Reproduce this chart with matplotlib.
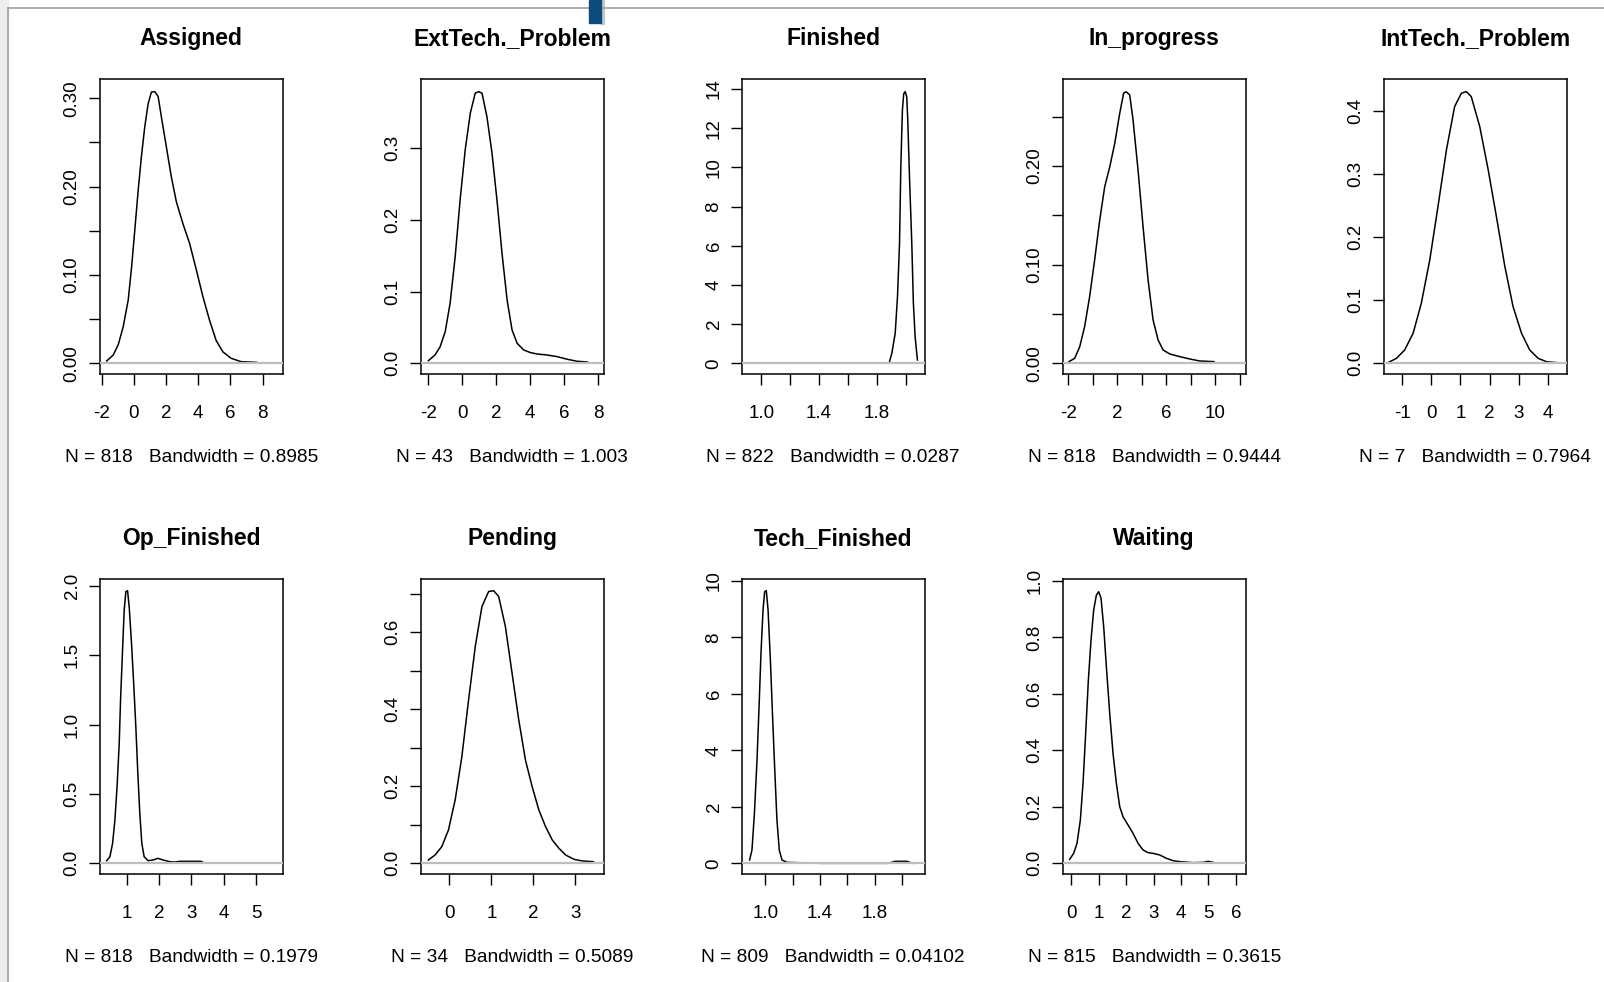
import matplotlib
matplotlib.use("Agg")
import matplotlib.pyplot as plt
from matplotlib.lines import Line2D
from matplotlib.patches import Rectangle

plt.rcParams["font.family"] = ["Liberation Sans", "DejaVu Sans"]

titles = ["Assigned", "ExtTech._Problem", "Finished", "In_progress", "IntTech._Problem",
          "Op_Finished", "Pending", "Tech_Finished", "Waiting"]
subs = ["N = 818   Bandwidth = 0.8985", "N = 43   Bandwidth = 1.003",
        "N = 822   Bandwidth = 0.0287", "N = 818   Bandwidth = 0.9444",
        "N = 7   Bandwidth = 0.7964", "N = 818   Bandwidth = 0.1979",
        "N = 34   Bandwidth = 0.5089", "N = 809   Bandwidth = 0.04102",
        "N = 815   Bandwidth = 0.3615"]

# density curves
assigned_x = [-1.69, -1.28, -0.97, -0.66, -0.35, -0.14, 0.06, 0.27, 0.47, 0.68, 0.89, 1.09, 1.30,
              1.51, 1.71, 2.02, 2.33, 2.64, 3.05, 3.46, 3.88, 4.29, 4.70, 5.11, 5.53, 6.04, 6.66, 7.63]
assigned_y = [0.0026, 0.0094, 0.021, 0.0415, 0.0717, 0.109, 0.151, 0.196, 0.234, 0.268, 0.294, 0.307,
              0.3075, 0.302, 0.279, 0.245, 0.211, 0.183, 0.158, 0.136, 0.106, 0.0755, 0.049, 0.026,
              0.013, 0.0057, 0.0019, 0.0011]

exttech_x = [-2.0, -1.61, -1.31, -1.01, -0.72, -0.42, -0.13, 0.17, 0.47, 0.76, 0.96, 1.16, 1.45, 1.75,
             2.04, 2.34, 2.64, 2.93, 3.23, 3.62, 4.02, 4.41, 5.0, 5.59, 6.19, 6.78, 7.37]
exttech_y = [0.0037, 0.0116, 0.023, 0.044, 0.0837, 0.149, 0.228, 0.298, 0.349, 0.377, 0.379, 0.377,
             0.344, 0.293, 0.228, 0.153, 0.088, 0.0465, 0.0279, 0.0186, 0.0149, 0.013, 0.0116,
             0.0093, 0.0056, 0.0028, 0.0019]

finished_x = [1.8876, 1.9037, 1.927, 1.943, 1.957, 1.966, 1.977, 1.986, 1.996, 2.007, 2.014, 2.026,
              2.042, 2.053, 2.065, 2.081]
finished_y = [0.085, 0.51, 1.53, 3.40, 6.12, 10.04, 12.93, 13.75, 13.86, 13.6, 12.42, 9.53, 6.12,
              3.06, 1.36, 0.17]

inprog_x = [-1.95, -1.48, -1.07, -0.67, -0.26, 0.15, 0.56, 0.97, 1.38, 1.79, 2.19, 2.52, 2.74, 3.01,
            3.28, 3.69, 4.10, 4.51, 4.92, 5.33, 5.74, 6.28, 7.10, 7.92, 8.73, 9.90]
inprog_y = [0.0017, 0.0051, 0.0169, 0.0372, 0.0676, 0.105, 0.145, 0.179, 0.199, 0.223, 0.253, 0.274,
            0.275, 0.272, 0.247, 0.196, 0.1385, 0.0845, 0.0439, 0.0236, 0.0135, 0.0095, 0.0068,
            0.0044, 0.0024, 0.0017]

inttech_x = [-1.48, -1.19, -0.91, -0.62, -0.34, -0.05, 0.23, 0.52, 0.80, 1.03, 1.20, 1.37, 1.66, 1.95,
             2.23, 2.52, 2.80, 3.09, 3.37, 3.66, 3.94, 4.29]
inttech_y = [0.0011, 0.0079, 0.0211, 0.0476, 0.0951, 0.1638, 0.2483, 0.3382, 0.4069, 0.428, 0.4307,
             0.4227, 0.3752, 0.3065, 0.2325, 0.1532, 0.0898, 0.0476, 0.0211, 0.0079, 0.0026, 0.0011]

opfin_x = [0.385, 0.487, 0.569, 0.641, 0.713, 0.774, 0.815, 0.877, 0.928, 0.979, 1.031, 1.082, 1.154,
           1.226, 1.287, 1.349, 1.410, 1.472, 1.544, 1.667, 1.821, 1.974, 2.128, 2.333, 2.487, 2.641,
           2.949, 3.308, 3.36]
opfin_y = [0.019, 0.048, 0.144, 0.3125, 0.577, 0.865, 1.178, 1.538, 1.827, 1.959, 1.966, 1.851, 1.587,
           1.274, 0.986, 0.649, 0.361, 0.144, 0.048, 0.019, 0.024, 0.036, 0.024, 0.012, 0.0096,
           0.0144, 0.0144, 0.0144, 0.007]

pending_x = [-0.504, -0.344, -0.184, -0.024, 0.136, 0.296, 0.456, 0.616, 0.776, 0.936, 1.056, 1.176,
             1.336, 1.496, 1.656, 1.816, 1.976, 2.136, 2.296, 2.456, 2.616, 2.776, 2.976, 3.176, 3.44]
pending_y = [0.0087, 0.0216, 0.0433, 0.0866, 0.1645, 0.277, 0.424, 0.563, 0.667, 0.706, 0.708, 0.693,
             0.615, 0.4935, 0.372, 0.268, 0.199, 0.1385, 0.0952, 0.0606, 0.039, 0.0216, 0.0104,
             0.0061, 0.0043]

techfin_x = [0.885, 0.902, 0.920, 0.939, 0.954, 0.968, 0.983, 0.995, 1.007, 1.020, 1.037, 1.054, 1.068,
             1.085, 1.102, 1.122, 1.159, 1.40, 1.70, 1.90, 1.951, 2.037, 2.08]
techfin_y = [0.118, 0.472, 1.771, 3.66, 5.55, 7.44, 8.97, 9.62, 9.66, 8.97, 7.20, 5.08, 3.42, 1.535,
             0.472, 0.118, 0.035, 0.0, 0.0, 0.0, 0.071, 0.071, 0.0]

waiting_x = [-0.06, 0.085, 0.207, 0.329, 0.426, 0.523, 0.621, 0.718, 0.815, 0.913, 0.998, 1.083, 1.180,
             1.278, 1.40, 1.521, 1.643, 1.765, 1.886, 2.069, 2.251, 2.434, 2.617, 2.799, 2.982, 3.225,
             3.468, 3.712, 3.955, 4.442, 4.807, 4.99, 5.17]
waiting_y = [0.0142, 0.0354, 0.0708, 0.1535, 0.283, 0.4605, 0.649, 0.791, 0.897, 0.950, 0.962, 0.939,
             0.838, 0.6966, 0.531, 0.3896, 0.283, 0.2007, 0.165, 0.1358, 0.1063, 0.0708, 0.0472,
             0.0378, 0.0354, 0.0295, 0.0177, 0.0094, 0.0059, 0.0024, 0.0035, 0.0071, 0.0035]

curves = [(assigned_x, assigned_y), (exttech_x, exttech_y), (finished_x, finished_y),
          (inprog_x, inprog_y), (inttech_x, inttech_y), (opfin_x, opfin_y),
          (pending_x, pending_y), (techfin_x, techfin_y), (waiting_x, waiting_y)]

xlims = [(-2.103, 9.237), (-2.434, 8.316), (0.866, 2.130), (-2.436, 12.465), (-1.616, 4.628),
         (0.180, 5.82), (-0.68, 3.68), (0.829, 2.166), (-0.304, 6.353)]
ylims = [(-0.0121, 0.3215), (-0.0149, 0.3963), (-0.544, 14.49), (-0.0108, 0.2878), (-0.0169, 0.4502),
         (-0.0769, 2.048), (-0.0277, 0.7377), (-0.378, 10.06), (-0.0378, 1.006)]

xticks = [[-2, 0, 2, 4, 6, 8], [-2, 0, 2, 4, 6, 8], [1.0, 1.2, 1.4, 1.6, 1.8, 2.0],
          [-2, 0, 2, 4, 6, 8, 10, 12], [-1, 0, 1, 2, 3, 4], [1, 2, 3, 4, 5], [0, 1, 2, 3],
          [1.0, 1.2, 1.4, 1.6, 1.8, 2.0], [0, 1, 2, 3, 4, 5, 6]]
xlabels = [["-2", "0", "2", "4", "6", "8"], ["-2", "0", "2", "4", "6", "8"],
           ["1.0", "", "1.4", "", "1.8", ""], ["-2", "", "2", "", "6", "", "10", ""],
           ["-1", "0", "1", "2", "3", "4"], ["1", "2", "3", "4", "5"], ["0", "1", "2", "3"],
           ["1.0", "", "1.4", "", "1.8", ""], ["0", "1", "2", "3", "4", "5", "6"]]
yticks = [[0, 0.05, 0.10, 0.15, 0.20, 0.25, 0.30], [0, 0.1, 0.2, 0.3], [0, 2, 4, 6, 8, 10, 12, 14],
          [0, 0.05, 0.10, 0.15, 0.20, 0.25], [0, 0.1, 0.2, 0.3, 0.4], [0, 0.5, 1.0, 1.5, 2.0],
          [0, 0.1, 0.2, 0.3, 0.4, 0.5, 0.6, 0.7], [0, 2, 4, 6, 8, 10], [0, 0.2, 0.4, 0.6, 0.8, 1.0]]
ylabels = [["0.00", "", "0.10", "", "0.20", "", "0.30"], ["0.0", "0.1", "0.2", "0.3"],
           ["0", "2", "4", "6", "8", "10", "12", "14"], ["0.00", "", "0.10", "", "0.20", ""],
           ["0.0", "0.1", "0.2", "0.3", "0.4"], ["0.0", "0.5", "1.0", "1.5", "2.0"],
           ["0.0", "", "0.2", "", "0.4", "", "0.6", ""], ["0", "2", "4", "6", "8", "10"],
           ["0.0", "0.2", "0.4", "0.6", "0.8", "1.0"]]

W, H = 1604, 982
fig = plt.figure(figsize=(W / 100, H / 100), dpi=100)

# window frame bits from the screenshot
fig.patches.append(Rectangle((0, 0), 8 / W, 1, transform=fig.transFigure, color="#eceef2", zorder=0))
fig.lines.append(Line2D([8 / W, 8 / W], [0, 1 - 7.5 / H], transform=fig.transFigure, color="#a0a0a0", lw=1.2))
fig.lines.append(Line2D([8 / W, 1], [1 - 7.5 / H, 1 - 7.5 / H], transform=fig.transFigure, color="#a0a0a0", lw=1.2))
fig.patches.append(Rectangle((601 / W, 1 - 24 / H), 3 / W, 24 / H, transform=fig.transFigure, color="#c8c8c8", zorder=1))
fig.patches.append(Rectangle((589 / W, 1 - 23 / H), 12 / W, 23 / H, transform=fig.transFigure, color="#0e4a7c", zorder=2))

bw, bh = 182.5, 294.7
for i, (cx, cy) in enumerate(curves):
    r, c = divmod(i, 5)
    left = 100 + c * 321
    top = 79.3 + r * 500
    ax = fig.add_axes([left / W, 1 - (top + bh) / H, bw / W, bh / H])
    ax.plot(cx, cy, color="black", lw=1.1, zorder=2)
    # R draws the zero line on top of the curve
    ax.axhline(0, color="#bebebe", lw=1.6, zorder=3)
    ax.set_xlim(xlims[i])
    ax.set_ylim(ylims[i])
    ax.set_xticks(xticks[i])
    ax.set_xticklabels(xlabels[i])
    ax.set_yticks(yticks[i])
    ax.set_yticklabels(ylabels[i], rotation=90, va="center")
    ax.tick_params(axis="both", direction="out", length=8, width=1.0, labelsize=13.5, color="black")
    ax.tick_params(axis="x", pad=14.5)
    ax.tick_params(axis="y", pad=6)
    for s in ax.spines.values():
        s.set_linewidth(1.1)
    ax.annotate(titles[i], xy=(0.5, 1), xycoords="axes fraction", xytext=(0, 29.5),
                textcoords="offset points", ha="center", va="center", fontsize=16.5, fontweight="bold")
    ax.annotate(subs[i], xy=(0.5, 0), xycoords="axes fraction", xytext=(0, -59.8),
                textcoords="offset points", ha="center", va="center", fontsize=13.8)

fig.savefig("out.png", dpi=100)
